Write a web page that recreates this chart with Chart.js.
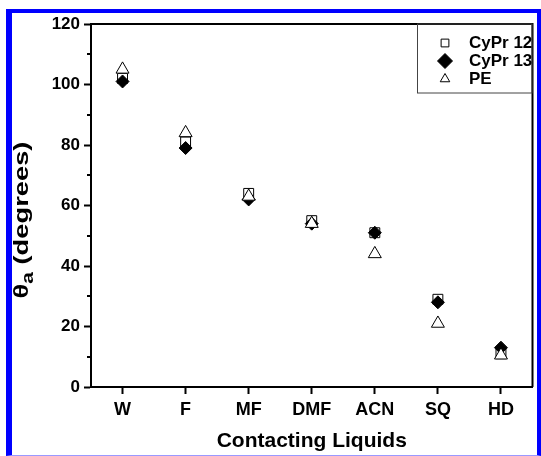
<!DOCTYPE html>
<html>
<head>
<meta charset="utf-8">
<script src="https://cdn.jsdelivr.net/npm/chart.js@4.4.1/dist/chart.umd.min.js"></script>
<style>
  html, body { margin: 0; padding: 0; background: #fff; }
  #wrap { position: relative; width: 541px; height: 456px; }
  #frame {
    position: absolute; left: 6px; top: 9px; right: 0; bottom: 0;
    border-left: 6px solid #0000ff; border-top: 4px solid #0000ff;
    border-right: 4px solid #0000ff; border-bottom: 1px solid #9999ff;
    pointer-events: none;
  }
</style>
</head>
<body>
<div id="wrap">
  <canvas id="angleChart" width="541" height="456"></canvas>
  <div id="frame"></div>
</div>
<script>
// Ângulo de contato de avanço por líquido
var liquids = ['W', 'F', 'MF', 'DMF', 'ACN', 'SQ', 'HD'];
var cypr12 = [102, 81, 64, 55, 51, 29, 11];
var cypr13 = [101, 79, 62, 54, 51, 28, 13];
var pe = [105, 84, 63, 54, 44, 21, 10.5];
var yMajorTicks = [0, 20, 40, 60, 80, 100, 120];
var yMinorTicks = [10, 30, 50, 70, 90, 110];

var FONT = 'Arial, "Liberation Sans", sans-serif';

function drawMarker(ctx, style, x, y, r) {
    ctx.beginPath();
    if (style === 'rect') {
        var s = r * Math.SQRT1_2;
        ctx.rect(x - s, y - s, 2 * s, 2 * s);
    } else if (style === 'rectRot') {
        ctx.moveTo(x, y - r);
        ctx.lineTo(x + r, y);
        ctx.lineTo(x, y + r);
        ctx.lineTo(x - r, y);
        ctx.closePath();
    } else {
        ctx.moveTo(x, y - r);
        ctx.lineTo(x + r * Math.sin(2 * Math.PI / 3), y + r / 2);
        ctx.lineTo(x - r * Math.sin(2 * Math.PI / 3), y + r / 2);
        ctx.closePath();
    }
    ctx.fill();
    ctx.stroke();
}

var framePlugin = {
    id: 'framePlugin',
    afterDraw: function (chart) {
        var ctx = chart.ctx;
        var a = chart.chartArea;
        var yScale = chart.scales.y;
        ctx.save();

        // moldura superior e direita
        ctx.strokeStyle = '#000';
        ctx.lineWidth = 2;
        ctx.beginPath();
        ctx.moveTo(a.left, a.top);
        ctx.lineTo(a.right, a.top);
        ctx.lineTo(a.right, a.bottom);
        ctx.stroke();

        // ticks menores
        yMinorTicks.forEach(function (v) {
            var py = Math.round(yScale.getPixelForValue(v));
            ctx.beginPath();
            ctx.moveTo(a.left - 4, py);
            ctx.lineTo(a.left, py);
            ctx.stroke();
        });

        // legenda com caixa
        var bx = 417, by = a.top, bw = a.right - 1 - bx, bh = 69;
        ctx.lineWidth = 1;
        ctx.strokeStyle = '#444';
        ctx.strokeRect(bx + 0.5, by, bw, bh);
        var sizes = [5.5, 7.5, 5.5];
        chart.data.datasets.forEach(function (ds, i) {
            var ry = by + 19 + i * 18;
            ctx.fillStyle = ds.backgroundColor;
            ctx.strokeStyle = '#000';
            ctx.lineWidth = 1;
            drawMarker(ctx, ds.pointStyle, 445, ry, sizes[i]);
            ctx.fillStyle = '#000';
            ctx.font = 'bold 17px ' + FONT;
            ctx.textBaseline = 'middle';
            ctx.textAlign = 'left';
            ctx.fillText(ds.label, 469, ry);
        });

        // título do eixo y com subscrito (esticado no sentido do texto)
        ctx.translate(21, 220);
        ctx.rotate(-Math.PI / 2);
        ctx.scale(1.3, 1);
        ctx.fillStyle = '#000';
        ctx.textBaseline = 'alphabetic';
        ctx.font = 'bold 21px ' + FONT;
        var wTheta = ctx.measureText('\u03b8').width;
        var wRest = ctx.measureText(' (degrees)').width;
        ctx.font = 'bold 16px ' + FONT;
        var wSub = ctx.measureText('a').width;
        var x0 = -(wTheta + wSub + wRest) / 2;
        ctx.font = 'bold 21px ' + FONT;
        ctx.fillText('\u03b8', x0, 7);
        ctx.font = 'bold 16px ' + FONT;
        ctx.fillText('a', x0 + wTheta, 12);
        ctx.font = 'bold 21px ' + FONT;
        ctx.fillText(' (degrees)', x0 + wTheta + wSub, 7);
        ctx.restore();
    }
};

new Chart(document.getElementById('angleChart'), {
    type: 'line',
    data: {
        labels: liquids,
        datasets: [
            { label: 'CyPr 12', data: cypr12, pointStyle: 'rect', pointRadius: 7, order: 3,
              backgroundColor: '#ffffff', borderColor: '#000', borderWidth: 1 },
            { label: 'CyPr 13', data: cypr13, pointStyle: 'rectRot', pointRadius: 6.5, order: 2,
              backgroundColor: '#000000', borderColor: '#000', borderWidth: 1 },
            { label: 'PE', data: pe, pointStyle: 'triangle', pointRadius: 7.5, order: 1,
              backgroundColor: '#ffffff', borderColor: '#000', borderWidth: 1 }
        ]
    },
    options: {
        responsive: false,
        animation: false,
        showLine: false,
        layout: { padding: { top: 24, right: 4, left: 0, bottom: 0 } },
        plugins: {
            legend: { display: false },
            tooltip: { enabled: false }
        },
        scales: {
            x: {
                type: 'category',
                offset: true,
                afterFit: function (s) { s.height = 69; },
                border: { color: '#000', width: 2 },
                grid: { offset: false, drawOnChartArea: false, drawTicks: true, tickLength: 7, tickWidth: 2, tickColor: '#000' },
                ticks: { color: '#000', padding: 5, maxRotation: 0, font: { family: FONT, size: 18, weight: 'bold' } },
                title: {
                    display: true,
                    text: 'Contacting Liquids',
                    color: '#000',
                    padding: { top: 0, bottom: 2 },
                    font: { family: FONT, size: 21, weight: 'bold' }
                }
            },
            y: {
                min: 0,
                max: 120,
                afterFit: function (s) { s.width = 91; },
                afterBuildTicks: function (s) {
                    s.ticks = yMajorTicks.map(function (v) { return { value: v }; });
                },
                border: { color: '#000', width: 2 },
                grid: { drawOnChartArea: false, drawTicks: true, tickLength: 7, tickWidth: 2, tickColor: '#000' },
                ticks: { color: '#000', padding: 4, font: { family: FONT, size: 17, weight: 'bold' } }
            }
        }
    },
    plugins: [framePlugin]
});
</script>
</body>
</html>
